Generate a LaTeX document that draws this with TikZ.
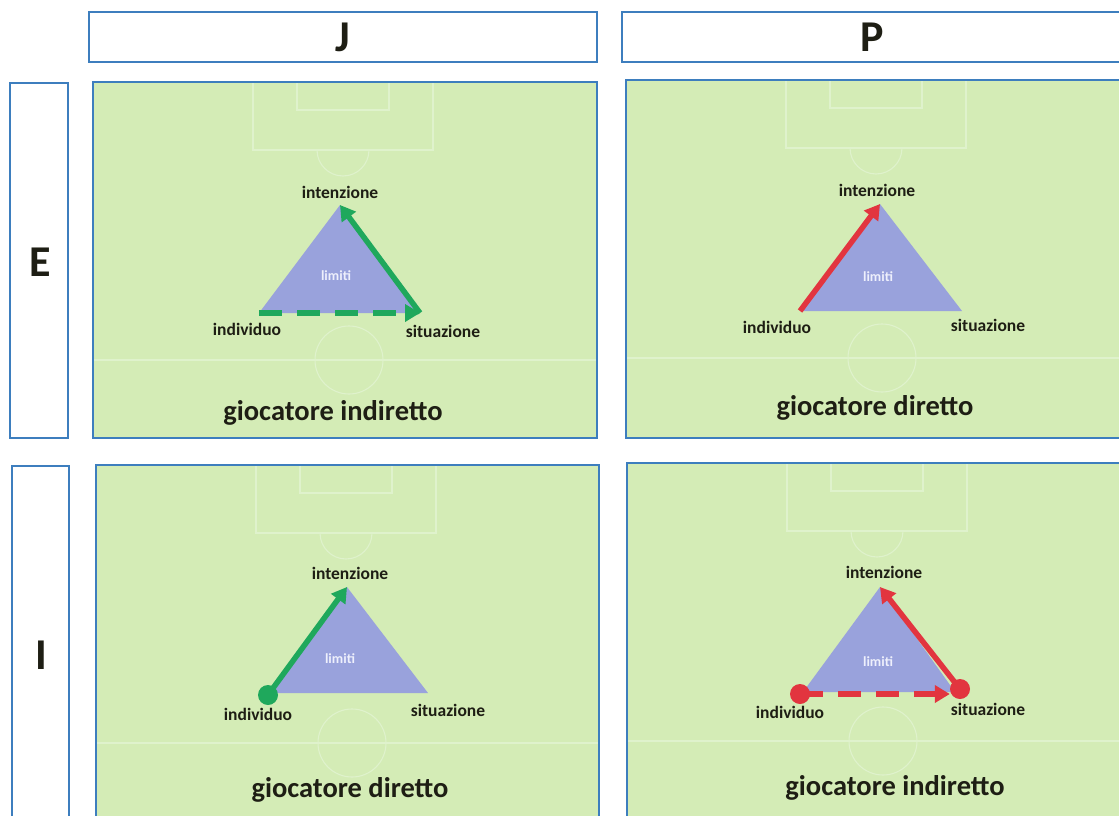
\documentclass[tikz,border=0pt]{standalone}
\usepackage{fontspec}
\setmainfont{Carlito}
\usetikzlibrary{arrows.meta}
\definecolor{fieldgreen}{HTML}{D4ECB6}
\definecolor{pitchline}{HTML}{DFF2CC}
\definecolor{boxblue}{HTML}{3D7EBE}
\definecolor{trifill}{HTML}{99A2DC}
\definecolor{arrgreen}{HTML}{1FA85C}
\definecolor{arrred}{HTML}{E2353F}
\definecolor{limitcol}{HTML}{EEF0FC}
\definecolor{txt}{HTML}{1E1E14}
\newcommand\drawpitch[4]{% left, top, right, bottom
  \begin{scope}[shift={(#1,#2)}]
    \draw[field] (0,0) rectangle (#3-#1,#4-#2);
    \begin{scope}
      \clip (0,0) rectangle (#3-#1,#4-#2);
      \draw[pline] (160,0) rectangle (340,68);
      \draw[pline] (204,0) rectangle (296,28);
      \draw[pline] (224,68) arc[start angle=180,end angle=0,radius=26];
      \draw[pline] (0,278) -- (#3-#1,278);
      \draw[pline] (256,278) circle[radius=34];
    \end{scope}
    \draw[boxblue,line width=2.2pt] (0,0) rectangle (#3-#1,#4-#2);
  \end{scope}}
\begin{document}
\begin{tikzpicture}[x=1pt,y=-1pt,
  hdr/.style={draw=boxblue,line width=2.2pt,fill=white},
  field/.style={fill=fieldgreen},
  pline/.style={draw=pitchline,line width=1.1pt},
  tri/.style={fill=trifill},
  lbl/.style={font=\fontsize{17.5}{17.5}\selectfont\bfseries,text=txt,inner sep=0pt},
  lim/.style={font=\fontsize{14}{14}\selectfont\bfseries,text=limitcol,inner sep=0pt},
  capt/.style={font=\fontsize{28.5}{28.5}\selectfont\bfseries,text=txt,inner sep=0pt},
  big/.style={font=\fontsize{44}{44}\selectfont\bfseries,text=txt,inner sep=0pt},
  garr/.style={draw=arrgreen,line width=5.5pt,-{Triangle[length=15pt,width=17pt]}},
  rarr/.style={draw=arrred,line width=5.5pt,-{Triangle[length=15pt,width=17pt]}},
  dashline/.style={dash pattern=on 23pt off 15pt},
  gdot/.style={circle,fill=arrgreen,minimum size=20pt,inner sep=0pt},
  rdot/.style={circle,fill=arrred,minimum size=20pt,inner sep=0pt}
]
\useasboundingbox (0,0) rectangle (1119,816);
\fill[white] (0,0) rectangle (1119,816);

% header boxes
\draw[hdr] (89,12) rectangle (597,62);
\draw[hdr] (622,12) rectangle (1130,62);
\draw[hdr] (10,83) rectangle (68,438);
\draw[hdr] (12,466) rectangle (69,830);
\node[big] (J) at (343,37) {J};
\node[big] (P) at (872,37) {P};
\node[big] (E) at (40,262) {E};
\node[big] (I) at (41,655) {I};

% fields
\drawpitch{93}{82}{597}{438}
\drawpitch{626}{80}{1130}{438}
\drawpitch{96}{465}{599}{830}
\drawpitch{627}{463}{1130}{830}

% ---------- top-left ----------
\coordinate (tlA) at (340,205);
\coordinate (tlL) at (259,313);
\coordinate (tlR) at (420,313);
\fill[tri] (tlA) -- (tlL) -- (tlR) -- cycle;
\node[lim] (tllim) at (336,276) {limiti};
\draw[garr,dashline] (tlL) -- (tlR);
\draw[garr] (tlR) -- (tlA);
\node[lbl] (tlint) at (340,192) {intenzione};
\node[lbl] (tlind) at (247,329) {individuo};
\node[lbl] (tlsit) at (443,331) {situazione};
\node[capt] (tlcap) at (333,413) {giocatore indiretto};

% ---------- top-right ----------
\coordinate (trA) at (880,204);
\coordinate (trL) at (800,311);
\coordinate (trR) at (962,311);
\fill[tri] (trA) -- (trL) -- (trR) -- cycle;
\node[lim] (trlim) at (878,277) {limiti};
\draw[rarr] (trL) -- (trA);
\node[lbl] (trint) at (877,190) {intenzione};
\node[lbl] (trind) at (777,327) {individuo};
\node[lbl] (trsit) at (988,325) {situazione};
\node[capt] (trcap) at (875,408) {giocatore diretto};

% ---------- bottom-left ----------
\coordinate (blA) at (347,587);
\coordinate (blL) at (272,693);
\coordinate (blR) at (428,693);
\fill[tri] (blA) -- (blL) -- (blR) -- cycle;
\node[lim] (bllim) at (340,659) {limiti};
\node[gdot] (bldot) at (268,695) {};
\draw[garr] (bldot.center) -- (blA);
\node[lbl] (blint) at (350,573) {intenzione};
\node[lbl] (blind) at (258,714) {individuo};
\node[lbl] (blsit) at (448,710) {situazione};
\node[capt] (blcap) at (350,790) {giocatore diretto};

% ---------- bottom-right ----------
\coordinate (brA) at (880,587);
\coordinate (brL) at (803,692);
\coordinate (brR) at (955,692);
\fill[tri] (brA) -- (brL) -- (brR) -- cycle;
\node[lim] (brlim) at (878,662) {limiti};
\node[rdot] (brdl) at (800,694) {};
\node[rdot] (brdr) at (960,689) {};
\draw[rarr,dashline] (brdl.center) -- (brdr.west |- brdl.center);
\draw[rarr] (brdr.center) -- (brA);
\node[lbl] (brint) at (884,572) {intenzione};
\node[lbl] (brind) at (790,712) {individuo};
\node[lbl] (brsit) at (988,709) {situazione};
\node[capt] (brcap) at (895,788) {giocatore indiretto};
\end{tikzpicture}
\end{document}
